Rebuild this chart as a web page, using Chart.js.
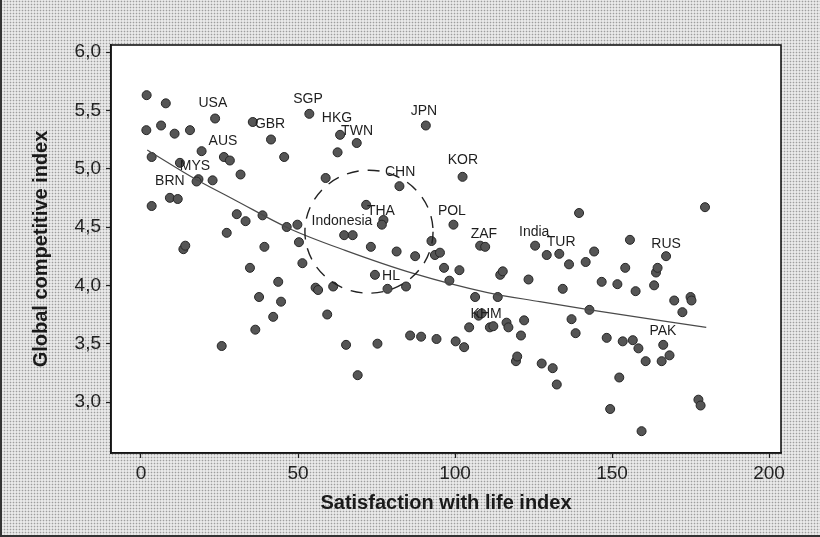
<!DOCTYPE html>
<html lang="en">
<head>
<meta charset="UTF-8">
<title>Global competitive index vs satisfaction with life</title>
<script src="https://cdn.jsdelivr.net/npm/chart.js@4"></script>
<style>
  html, body { margin: 0; padding: 0; }
  body {
    width: 820px; height: 537px; overflow: hidden;
    background-color: #e9e9e9;
    background-image: radial-gradient(circle, rgba(0,0,0,0.32) 0.7px, transparent 1.1px);
    background-size: 3px 3px;
  }
  #wrap { position: relative; width: 820px; height: 537px; box-sizing: border-box;
          border-left: 2px solid #333; border-bottom: 2px solid #333; }
  canvas { position: absolute; left: -2px; top: 0; }
</style>
</head>
<body>
<div id="wrap"><canvas id="chart" width="820" height="537"></canvas></div>
<script>
// one dot per country: satisfaction with life index (x), global competitive index (y)
const lifeIndex = [
  1.8, 7.9, 6.4, 1.7, 10.7, 15.6, 23.6, 35.6, 41.4, 53.6,
  19.3, 26.4, 28.3, 45.6, 3.4, 12.4, 31.7, 18.3, 17.7, 22.8,
  9.2, 11.7, 3.4, 30.5, 33.3, 38.7, 27.3, 46.4, 49.8, 50.3,
  58.8, 13.5, 14.1, 39.3, 63.4, 68.7, 62.6, 90.7, 102.4, 82.3,
  71.7, 77.2, 76.7, 64.7, 67.4, 99.5, 92.5, 108.0, 109.6, 73.2,
  81.4, 87.3, 93.6, 95.2, 125.5, 139.5, 179.6, 129.2, 133.2, 155.7,
  144.3, 167.2, 34.7, 51.4, 43.7, 55.6, 56.4, 61.2, 37.6, 44.6,
  42.1, 59.3, 36.4, 25.7, 96.5, 101.4, 114.4, 115.2, 123.4, 74.5,
  78.5, 84.4, 98.2, 106.4, 113.6, 107.5, 108.5, 104.5, 111.1, 112.2,
  116.4, 117.0, 122.0, 121.0, 85.7, 89.2, 94.1, 100.2, 102.9, 65.3,
  75.3, 119.4, 119.8, 69.0, 136.3, 141.6, 154.2, 164.0, 164.5, 146.7,
  151.7, 157.5, 163.4, 169.8, 175.0, 175.3, 172.4, 134.3, 142.8, 137.1,
  138.4, 148.3, 153.4, 156.6, 158.4, 166.3, 168.3, 165.8, 160.7, 127.6,
  131.1, 132.4, 152.3, 149.4, 159.4, 177.5, 178.2
];
const compIndex = [
  5.63, 5.56, 5.37, 5.33, 5.30, 5.33, 5.43, 5.40, 5.25, 5.47,
  5.15, 5.10, 5.07, 5.10, 5.10, 5.05, 4.95, 4.91, 4.89, 4.90,
  4.75, 4.74, 4.68, 4.61, 4.55, 4.60, 4.45, 4.50, 4.52, 4.37,
  4.92, 4.31, 4.34, 4.33, 5.29, 5.22, 5.14, 5.37, 4.93, 4.85,
  4.69, 4.56, 4.52, 4.43, 4.43, 4.52, 4.38, 4.34, 4.33, 4.33,
  4.29, 4.25, 4.26, 4.28, 4.34, 4.62, 4.67, 4.26, 4.27, 4.39,
  4.29, 4.25, 4.15, 4.19, 4.03, 3.98, 3.96, 3.99, 3.90, 3.86,
  3.73, 3.75, 3.62, 3.48, 4.15, 4.13, 4.09, 4.12, 4.05, 4.09,
  3.97, 3.99, 4.04, 3.90, 3.90, 3.74, 3.76, 3.64, 3.64, 3.65,
  3.68, 3.64, 3.70, 3.57, 3.57, 3.56, 3.54, 3.52, 3.47, 3.49,
  3.50, 3.35, 3.39, 3.23, 4.18, 4.20, 4.15, 4.11, 4.15, 4.03,
  4.01, 3.95, 4.00, 3.87, 3.90, 3.87, 3.77, 3.97, 3.79, 3.71,
  3.59, 3.55, 3.52, 3.53, 3.46, 3.49, 3.40, 3.35, 3.35, 3.33,
  3.29, 3.15, 3.21, 2.94, 2.75, 3.02, 2.97
];

// fitted trend, read at a few points along x
const trendX = [2, 18, 30, 47, 65, 87, 110, 127, 143, 180];
const trendY = [5.16, 4.90, 4.73, 4.49, 4.30, 4.10, 3.94, 3.86, 3.79, 3.64];

const xTicks = [0, 50, 100, 150, 200];
const yTicks = [3.0, 3.5, 4.0, 4.5, 5.0, 5.5, 6.0];

// country codes, placed in axis units
const labelText = ['USA', 'SGP', 'GBR', 'HKG', 'TWN', 'JPN', 'KOR', 'CHN', 'THA', 'Indonesia',
                   'POL', 'ZAF', 'India', 'TUR', 'RUS', 'PAK', 'KHM', 'HL', 'MYS', 'BRN', 'AUS'];
const labelX = [22.9, 53.2, 41.1, 62.4, 68.8, 90.1, 102.5, 82.5, 76.4, 64.0,
                99.0, 109.2, 125.2, 133.8, 167.2, 166.2, 109.9, 79.6, 17.2, 9.2, 26.1];
const labelY = [5.56, 5.60, 5.38, 5.43, 5.32, 5.49, 5.07, 4.97, 4.64, 4.55,
                4.64, 4.44, 4.46, 4.37, 4.35, 3.61, 3.75, 4.08, 5.02, 4.89, 5.24];

// dashed ring round the group in the middle
const ringCentre = [72.6, 4.46];
const ringRadius = [20.4, 0.527];

const points = lifeIndex.map((x, i) => ({ x: x, y: compIndex[i] }));
const trend = trendX.map((x, i) => ({ x: x, y: trendY[i] }));

const plotFrame = {
  id: 'plotFrame',
  beforeDraw(chart) {
    const a = chart.chartArea, ctx = chart.ctx;
    ctx.save();
    ctx.fillStyle = '#ffffff';
    ctx.fillRect(a.left, a.top, a.right - a.left, a.bottom - a.top);
    ctx.restore();
  },
  afterDraw(chart) {
    const a = chart.chartArea, ctx = chart.ctx;
    ctx.save();
    ctx.strokeStyle = '#151515';
    ctx.lineWidth = 1.6;
    ctx.strokeRect(a.left, a.top, a.right - a.left, a.bottom - a.top);
    ctx.restore();
  }
};

const countryLabels = {
  id: 'countryLabels',
  afterDatasetsDraw(chart) {
    const xs = chart.scales.x, ys = chart.scales.y, ctx = chart.ctx;
    ctx.save();
    ctx.font = '14px "Liberation Sans", Arial, sans-serif';
    ctx.fillStyle = '#1e1e1e';
    ctx.textAlign = 'center';
    ctx.textBaseline = 'middle';
    labelText.forEach((t, i) => {
      ctx.fillText(t, xs.getPixelForValue(labelX[i]), ys.getPixelForValue(labelY[i]));
    });

    // the ring
    const cx = xs.getPixelForValue(ringCentre[0]);
    const cy = ys.getPixelForValue(ringCentre[1]);
    const rx = xs.getPixelForValue(ringCentre[0] + ringRadius[0]) - cx;
    const ry = cy - ys.getPixelForValue(ringCentre[1] + ringRadius[1]);
    ctx.strokeStyle = '#222';
    ctx.lineWidth = 1.4;
    ctx.setLineDash([12, 9]);
    ctx.beginPath();
    ctx.ellipse(cx, cy, rx, ry, 0, 0, Math.PI * 2);
    ctx.stroke();
    ctx.restore();
  }
};

const tickFont = { family: '"Liberation Sans", Arial, sans-serif', size: 19 };
const titleFont = { family: '"Liberation Sans", Arial, sans-serif', size: 20, weight: 'bold' };

new Chart(document.getElementById('chart'), {
  type: 'scatter',
  data: {
    datasets: [
      {
        label: 'countries',
        data: points,
        pointRadius: 4.5,
        pointBackgroundColor: '#555555',
        pointBorderColor: '#262626',
        pointBorderWidth: 1,
        order: 2
      },
      {
        type: 'line',
        label: 'trend',
        data: trend,
        borderColor: '#4a4a4a',
        borderWidth: 1.2,
        pointRadius: 0,
        cubicInterpolationMode: 'monotone',
        fill: false,
        order: 1
      }
    ]
  },
  options: {
    responsive: false,
    animation: false,
    devicePixelRatio: 1,
    layout: { padding: { top: 45, right: 39, left: 0, bottom: 0 } },
    plugins: { legend: { display: false }, tooltip: { enabled: false } },
    scales: {
      x: {
        type: 'linear',
        min: -9.55,
        max: 203.8,
        afterBuildTicks: s => { s.ticks = xTicks.map(v => ({ value: v })); },
        afterFit: s => { s.height = 84; },
        grid: { drawOnChartArea: false, tickLength: 5, tickColor: '#222', tickWidth: 1.2 },
        border: { display: true, color: '#151515', width: 1.6 },
        ticks: { color: '#222', font: tickFont, padding: 4, maxRotation: 0 },
        title: { display: true, text: 'Satisfaction with life index', color: '#1a1a1a',
                 font: titleFont, padding: { top: 0, bottom: 22 } }
      },
      y: {
        type: 'linear',
        min: 2.563,
        max: 6.06,
        afterBuildTicks: s => { s.ticks = yTicks.map(v => ({ value: v })); },
        afterFit: s => { s.width = 111; },
        grid: { drawOnChartArea: false, tickLength: 5, tickColor: '#222', tickWidth: 1.2 },
        border: { display: true, color: '#151515', width: 1.6 },
        ticks: { color: '#222', font: tickFont, padding: 5,
                 callback: v => v.toFixed(1).replace('.', ',') },
        title: { display: true, text: 'Global competitive index', color: '#1a1a1a',
                 font: titleFont, padding: { top: 29, bottom: 0 } }
      }
    }
  },
  plugins: [plotFrame, countryLabels]
});
</script>
</body>
</html>
